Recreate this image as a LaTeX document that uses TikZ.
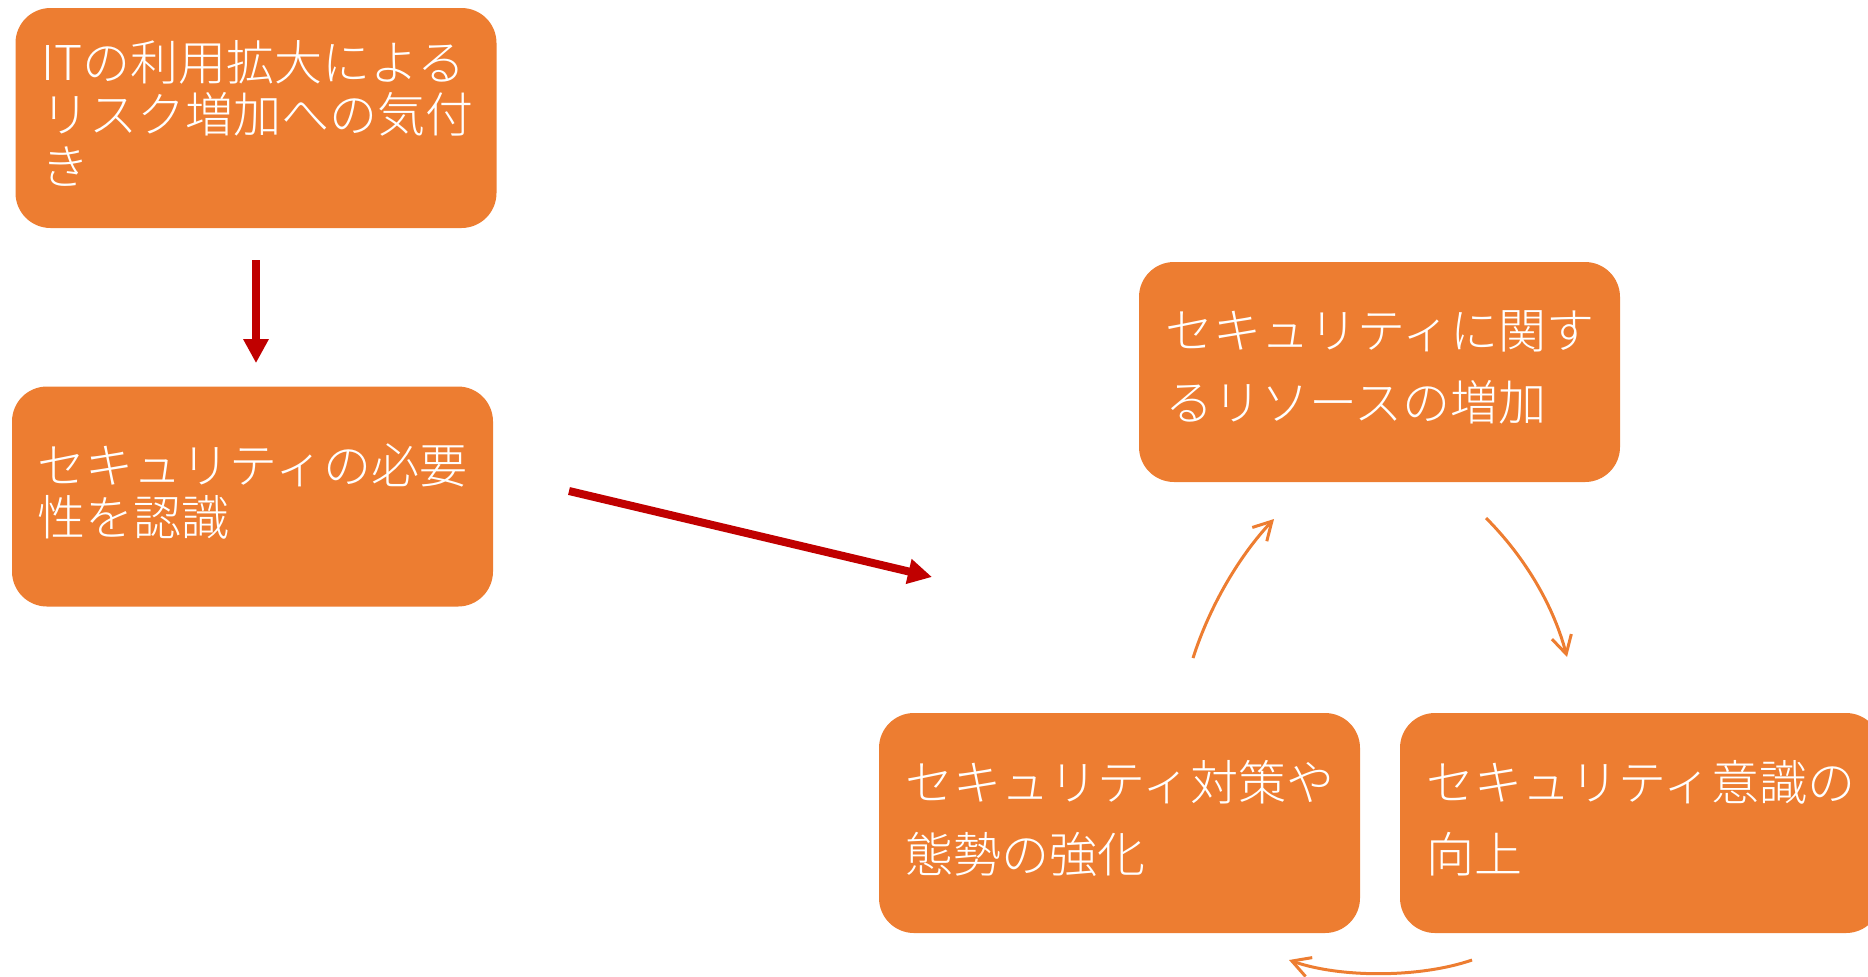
\documentclass[tikz,border=0pt]{standalone}
\usepackage{fontspec}
\IfFontExistsTF{Noto Sans CJK JP Light}{\setmainfont{Noto Sans CJK JP Light}}{\setmainfont{Noto Sans CJK JP}}
\usetikzlibrary{arrows.meta}
\definecolor{boxorange}{HTML}{ED7D31}
\definecolor{arrowred}{HTML}{C00000}
\begin{document}
\begin{tikzpicture}[x=0.5pt,y=-0.5pt,
  box/.style={fill=boxorange, draw=none, rounded corners=17.5pt,
    minimum width=240.5pt, minimum height=110pt, text width=214.5pt,
    inner xsep=13pt, inner ysep=0pt, align=left, text=white,
    font=\fontsize{24}{26}\selectfont,
    execute at end node={\endgraf\vspace*{5pt}}},
  widebox/.style={box, font=\fontsize{24}{36}\selectfont},
  redarrow/.style={draw=arrowred, line width=4pt, -{Triangle[length=12pt,width=12pt]}},
  cyclearrow/.style={draw=boxorange, line width=1.5pt, -{Straight Barb[length=9pt,width=10pt]}}]
\useasboundingbox (0,0) rectangle (1868,976);
\clip (0,0) rectangle (1868,976);

\node[box] (b1) at (256,118) {ITの利用拡大による\\リスク増加への気付\\き};
\node[box] (b2) at (252.5,496.5) {セキュリティの必要\\性を認識};
\node[widebox] (b3) at (1379.5,372) {セキュリティに関す\\るリソースの増加};
\node[widebox] (b4) at (1119.5,823) {セキュリティ対策や\\態勢の強化};
\node[widebox] (b5) at (1640.5,823) {セキュリティ意識の\\向上};

\draw[redarrow, shorten <=16pt, shorten >=11.5pt] (b1.south) -- (b1.south |- b2.north);

\coordinate (r2s) at (569,491);
\coordinate (r2e) at (932,577);
\draw[redarrow] (r2s) -- (r2e);

\coordinate (c1s) at (1193,658);
\coordinate (c1e) at (1274,519);
\coordinate (c2s) at (1486,518);
\coordinate (c2e) at (1567,657);
\coordinate (c3s) at (1472,960);
\coordinate (c3e) at (1289,960);
\draw[cyclearrow] (c1s) .. controls (1210,605) and (1240,555) .. (c1e);
\draw[cyclearrow] (c2s) .. controls (1520,552) and (1552,600) .. (c2e);
\draw[cyclearrow] (c3s) .. controls (1420,978) and (1340,978) .. (c3e);
\end{tikzpicture}
\end{document}
